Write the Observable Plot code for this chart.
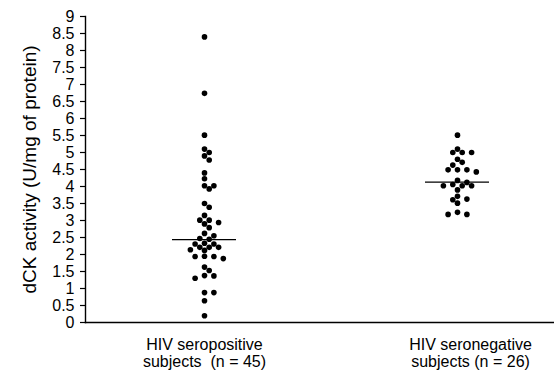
<!DOCTYPE html>
<html><head><meta charset="utf-8">
<script src="https://cdn.jsdelivr.net/npm/d3@7"></script>
<script src="https://cdn.jsdelivr.net/npm/@observablehq/plot@0.6"></script>
<style>html,body{margin:0;padding:0;background:#fff}svg{display:block}</style>
</head><body><div id="chart"></div>
<script>
// ---- data ----
const groupLabels = ["HIV seropositive\nsubjects\u00a0 (n = 45)", "HIV seronegative\nsubjects (n = 26)"];
const seropositive = [8.40, 6.74, 5.51, 5.10, 5.00, 4.90, 4.78,
  4.40, 4.23, 4.02, 3.93, 4.02, 3.39, 3.50, 3.15, 3.01, 2.94, 3.01, 2.90, 2.79,
  2.55, 2.62, 2.45, 2.47, 2.33, 2.21, 2.21, 2.21, 2.31, 2.31, 2.12, 2.14,
  1.94, 1.94, 1.88, 1.95, 1.63, 1.53, 1.38, 1.37, 1.30, 0.88, 0.88, 0.64, 0.20];
const seronegative = [5.51, 5.10, 5.00, 5.00, 5.00, 4.80, 4.63, 4.71, 4.49, 4.43,
  4.49, 4.49, 4.18, 4.02, 4.06, 4.12, 4.02, 3.90, 4.02, 3.61, 3.71, 3.63, 3.51,
  3.18, 3.18, 3.24];
const centralLine = [2.44, 4.13];
const yTicks = [0, 0.5, 1, 1.5, 2, 2.5, 3, 3.5, 4, 4.5, 5, 5.5, 6, 6.5, 7, 7.5, 8, 8.5, 9];
const yLabel = "dCK activity (U/mg of protein)";

// ---- layout ----
const W = 554, H = 371, mT = 16, mB = 49, mL = 85, mR = 0;
const xRange = [204, 457];
const pxPerY = (H - mB - mT) / 9;
const pxPerX = xRange[1] - xRange[0];

// deterministic swarm layout (avoid overlapping dots)
function swarm(values, gi) {
  const step = 4.7, minD = 5.6;
  const placed = [];
  const out = new Array(values.length);
  const order = values.map((v, i) => i).sort((a, b) => values[b] - values[a]);
  for (const i of order) {
    const yp = values[i] * pxPerY;
    for (let k = 0; k < 40; k++) {
      const off = (k % 2 ? 1 : -1) * Math.ceil(k / 2) * step;
      if (placed.every(p => Math.hypot(p.x - off, p.y - yp) >= minD)) {
        placed.push({x: off, y: yp});
        out[i] = {group: gi, value: values[i], x: gi + off / pxPerX};
        break;
      }
    }
  }
  return out;
}
const points = [...swarm(seropositive, 0), ...swarm(seronegative, 1)];
const halfLine = 32 / pxPerX;
const labelDx = [0, 13];

const chart = Plot.plot({
  width: W, height: H, marginTop: mT, marginBottom: mB, marginLeft: mL, marginRight: mR,
  style: {fontFamily: "'Liberation Sans', Arial, Helvetica, sans-serif", background: "#fff", color: "#000"},
  x: {type: "linear", domain: [0, 1], range: xRange, axis: null},
  y: {domain: [0, 9], axis: null},
  marks: [
    Plot.axisY({ticks: yTicks, tickSize: 5, tickPadding: 6, fontSize: 16, label: null, tickFormat: d => String(d), strokeWidth: 1.2}),
    Plot.frame({anchor: "left", strokeWidth: 1.4}),
    Plot.frame({anchor: "bottom", strokeWidth: 1.4}),
    Plot.ruleY(centralLine, {y: d => d, x1: (d, i) => i - halfLine, x2: (d, i) => i + halfLine, strokeWidth: 1.3}),
    Plot.dot(points, {x: "x", y: "value", r: 2.8, fill: "#000", stroke: "none"}),
    Plot.text([yLabel], {text: d => d, frameAnchor: "left", textAnchor: "middle", rotate: -90, dx: -56, fontSize: 19}),
    ...groupLabels.map((g, i) => Plot.text([g], {text: d => d, x: i, y: 0, dx: labelDx[i], dy: 16, lineAnchor: "top", lineHeight: 1.05, fontSize: 16, textAnchor: "middle"}))
  ]
});
document.getElementById("chart").append(chart);
</script>
</body></html>
